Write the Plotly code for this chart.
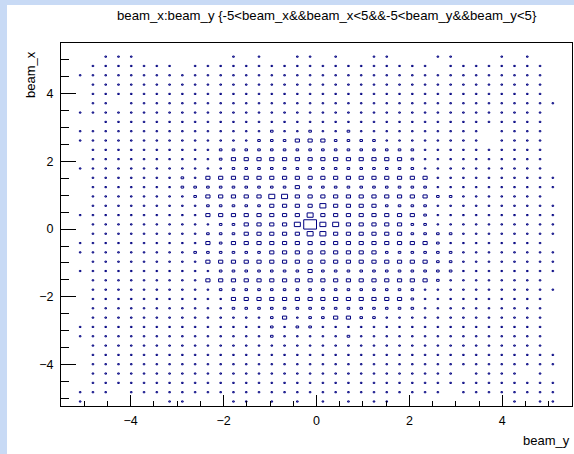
import plotly.graph_objects as go

# ---------------- data ----------------
bin_low = -5.5          # lower edge of the first bin (both axes)
bin_width = 0.275       # 40 bins over [-5.5, 5.5]
n_bins = 40

# Box-size level of every bin; one string per beam_x bin, top (bin 39) to bottom (bin 0),
# one character per beam_y bin (left to right), written in groups of 10. '.' = empty.
box_rows = [
    ".......... .......... .......... ..........",  # 39
    "...111.... ...1.1..11 .1..11...1 1...1.1...",  # 38
    "..1111111. 1111111111 111111111. 11111111..",  # 37
    ".111111111 1111111111 1111111111 11111111..",  # 36
    "..11111111 1111111111 1111111111 11111111..",  # 35
    "..11111111 1111111111 1111111111 11111111..",  # 34
    "..11.11111 1111111111 1111111111 111111111.",  # 33
    ".111111111 1111111111 1111111111 11111111..",  # 32
    "...1111111 1111111111 1111111111 11111111..",  # 31
    ".111111111 1111112112 1121111111 111.1111..",  # 30
    ".111111111 1111122233 3222211111 111.1111..",  # 29
    "..11111111 1122222222 2222222211 11111111..",  # 28
    "..11111111 1123333333 3333333211 11111111..",  # 27
    ".111111111 1112222222 2222222211 11111111..",  # 26
    "..11111112 1333333333 3333333331 111111111.",  # 25
    "..11111112 2222222232 2222222221 111111111.",  # 24
    "..11111111 2333334433 3333333332 21111111..",  # 23
    "..11111111 1222223333 4333322221 111111111.",  # 22
    ".111111111 1333333334 3333333321 111111111.",  # 21
    "..11111111 1122333349 4433333221 111111111.",  # 20
    "..11111111 1222333334 4333333222 211111111.",  # 19
    ".111111111 1323333333 3333333332 11111111..",  # 18
    ".111111111 2222223333 3333322222 211111111.",  # 17
    "..11111111 1333333333 3333333332 211111111.",  # 16
    ".111111111 1122222223 2222222222 211111111.",  # 15
    "..11111111 1333333333 3333333332 11111111..",  # 14
    "..11111111 1122222222 2222222211 111111111.",  # 13
    "..11111111 1113333333 3333333211 11111111..",  # 12
    "..11111111 1112222222 2222222211 11111111..",  # 11
    "..11111111 1111112312 2332211111 11111111..",  # 10
    ".111111111 1111112122 1111111111 11111111..",  # 9
    ".111111111 1111112111 1121111111 11111111..",  # 8
    "..11111111 1111111111 1111111111 11111111..",  # 7
    "..11111111 1111111111 1111111111 111111111.",  # 6
    "..11111111 1111111111 1111111111 111111111.",  # 5
    "..11111111 1111111111 1111111111 1.1111.1..",  # 4
    "..11111111 1111111111 1111111111 111111111.",  # 3
    ".111.11111 1111111111 1111111111 .11111111.",  # 2
    ".1......11 ...11.1.1. 1.1.11.... .....1.11.",  # 1
    ".......... .......... .......... ..........",  # 0
]

# estimated bin content for each size level
level_counts = {".": 0, "1": 8, "2": 13, "3": 21, "4": 30, "9": 64}

x_ticks = [-4, -2, 0, 2, 4]
y_ticks = [-4, -2, 0, 2, 4]

title_text = "beam_x:beam_y {-5&lt;beam_x&amp;&amp;beam_x&lt;5&amp;&amp;-5&lt;beam_y&amp;&amp;beam_y&lt;5}"
x_title = "beam_y"
y_title = "beam_x"

# ---------------- build the boxes ----------------
rows = [r.replace(" ", "") for r in box_rows]
for r in rows:
    assert len(r) == n_bins, (len(r), r)

counts = [[level_counts[ch] for ch in row] for row in rows[::-1]]  # [j][k], j from bottom
cmax = max(max(row) for row in counts)

xs, ys = [], []
for j, row in enumerate(counts):
    yc = bin_low + (j + 0.5) * bin_width
    for k, c in enumerate(row):
        if c <= 0:
            continue
        xc = bin_low + (k + 0.5) * bin_width
        h = 0.5 * bin_width * c / cmax
        xs += [xc - h, xc + h, xc + h, xc - h, xc - h, None]
        ys += [yc - h, yc - h, yc + h, yc + h, yc - h, None]

fig = go.Figure()
fig.add_trace(go.Scatter(
    x=xs, y=ys, mode="lines",
    line=dict(color="#000080", width=1, simplify=False),
    hoverinfo="skip", showlegend=False,
))

W, H = 574, 454
L, R, T, B = 61, 2, 43, 48
pw, ph = W - L - R, H - T - B

font = "Liberation Sans, Arial, Helvetica, sans-serif"

fig.update_layout(
    width=W, height=H,
    margin=dict(l=L, r=R, t=T, b=B),
    paper_bgcolor="white",
    plot_bgcolor="white",
    font=dict(family=font, size=12, color="black"),
    xaxis=dict(
        range=[-5.5, 5.5], tickmode="array", tickvals=x_ticks,
        ticks="inside", ticklen=11, tickwidth=1, tickcolor="black",
        minor=dict(ticks="inside", ticklen=5, dtick=0.5, tick0=0, tickcolor="black", tickwidth=1),
        showline=True, linecolor="black", linewidth=1, mirror=True,
        showgrid=False, zeroline=False,
        tickfont=dict(size=12.5), ticklabelstandoff=3,
    ),
    yaxis=dict(
        range=[-5.22, 5.49], tickmode="array", tickvals=y_ticks,
        ticks="inside", ticklen=15, tickwidth=1, tickcolor="black",
        minor=dict(ticks="inside", ticklen=8, dtick=0.5, tick0=0, tickcolor="black", tickwidth=1),
        showline=True, linecolor="black", linewidth=1, mirror=True,
        showgrid=False, zeroline=False,
        tickfont=dict(size=12.5), ticklabelstandoff=4,
    ),
    shapes=[
        # light-blue page strips (left and top)
        dict(type="rect", xref="paper", yref="paper",
             x0=(0 - L) / pw, x1=(7 - L) / pw, y0=-(B) / ph, y1=1 + T / ph,
             fillcolor="#c8daf5", line=dict(width=0), layer="below"),
        dict(type="rect", xref="paper", yref="paper",
             x0=(0 - L) / pw, x1=1 + R / pw, y0=1 + (T - 5) / ph, y1=1 + T / ph,
             fillcolor="#c8daf5", line=dict(width=0), layer="below"),
    ],
    annotations=[
        dict(text=title_text, xref="paper", yref="paper",
             x=(327 - L) / pw, y=1 + (T - 15) / ph, xanchor="center", yanchor="middle",
             showarrow=False, font=dict(size=13.2)),
        dict(text=x_title, xref="paper", yref="paper",
             x=1, y=-(440 - T - ph) / ph, xanchor="right", yanchor="middle",
             showarrow=False, font=dict(size=13)),
        dict(text=y_title, xref="paper", yref="paper",
             x=(30 - L) / pw, y=1 - (75 - T) / ph, xanchor="center", yanchor="middle",
             textangle=-90, showarrow=False, font=dict(size=13)),
    ],
)

fig.write_html("out.html")
